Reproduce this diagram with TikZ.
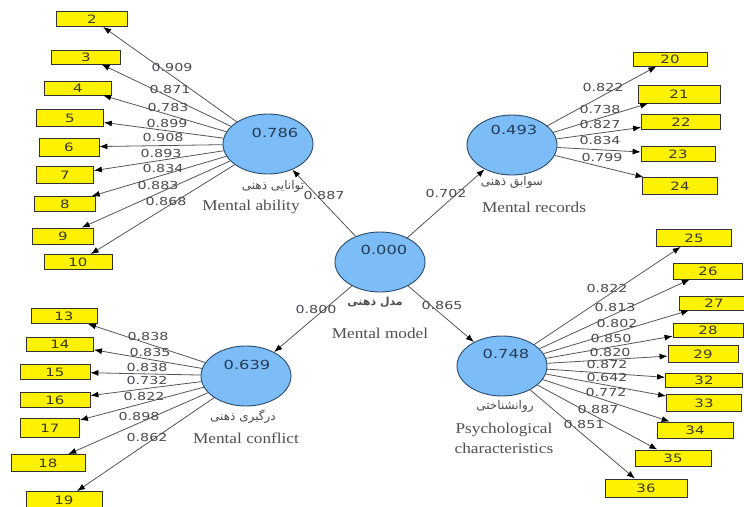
\documentclass[tikz,border=0pt]{standalone}
\usepackage{fontspec}
\usetikzlibrary{shapes.geometric,arrows.meta}
\TeXXeTstate=1
\newfontfamily\numf[FakeStretch=1.3]{DejaVu Sans}
\newfontfamily\serf[FakeStretch=1.15]{Liberation Serif}
\newfontfamily\arabicfont[Script=Arabic]{DejaVu Sans}
\definecolor{ellfill}{HTML}{7DBDF7}
\definecolor{elldraw}{HTML}{2B4A6B}
\definecolor{valcol}{HTML}{243C58}
\definecolor{linecol}{HTML}{555555}
\definecolor{loadcol}{HTML}{4A4A52}
\definecolor{boxtext}{HTML}{3A3A20}
\definecolor{labcol}{HTML}{505050}
\tikzset{
  latent/.style={ellipse,draw=elldraw,line width=0.9pt,fill=ellfill,minimum width=90pt,minimum height=60pt,inner sep=0pt},
  valtext/.style={font=\numf\fontsize{12.5}{14}\selectfont,text=valcol,inner sep=0pt},
  indbox/.style={draw=black!80,line width=0.8pt,fill=yellow,inner sep=0pt,minimum height=15pt,font=\numf\fontsize{11.5}{13}\selectfont,text=boxtext},
  load/.style={font=\numf\fontsize{11}{13}\selectfont,text=loadcol,inner sep=0pt},
  enlab/.style={font=\serf\fontsize{15}{20}\selectfont,text=labcol,inner sep=0pt,align=center},
  falab/.style={font=\arabicfont\fontsize{12}{14}\selectfont,text=black!70,inner sep=0pt},
  conn/.style={draw=linecol,line width=0.8pt,-{Latex[length=8pt,width=6pt,color=black]}}
}
\begin{document}
\begin{tikzpicture}[x=1pt,y=-1pt]
\useasboundingbox (0,0) rectangle (744,506);
\fill[white] (0,0) rectangle (744,506);

% latent variables
\node[latent] (ma) at (268,144) {};
\node[latent] (mr) at (512,145) {};
\node[latent] (mm) at (380,262) {};
\node[latent] (mc) at (246,376) {};
\node[latent] (pc) at (502,366) {};

% indicator boxes: Mental ability
\node[indbox,minimum width=71pt] (b2) at (92,19) {2};
\node[indbox,minimum width=69pt,minimum height=14pt] (b3) at (86,57) {3};
\node[indbox,minimum width=67pt,minimum height=14pt] (b4) at (78,88) {4};
\node[indbox,minimum width=67pt,minimum height=17pt] (b5) at (70,118) {5};
\node[indbox,minimum width=60pt,minimum height=18pt] (b6) at (69,147) {6};
\node[indbox,minimum width=57pt,minimum height=17pt] (b7) at (65,175) {7};
\node[indbox,minimum width=61pt] (b8) at (65,204) {8};
\node[indbox,minimum width=61pt,minimum height=16pt] (b9) at (63,236) {9};
\node[indbox,minimum width=68pt] (b10) at (78,262) {10};

% Mental records
\node[indbox,minimum width=74pt,minimum height=14pt] (b20) at (670,59) {20};
\node[indbox,minimum width=82pt,minimum height=18pt] (b21) at (679,94) {21};
\node[indbox,minimum width=79pt] (b22) at (681,122) {22};
\node[indbox,minimum width=74pt] (b23) at (678,154) {23};
\node[indbox,minimum width=75pt,minimum height=17pt] (b24) at (680,186) {24};

% Psychological characteristics
\node[indbox,minimum width=75pt,minimum height=17pt] (b25) at (694,238) {25};
\node[indbox,minimum width=69pt,minimum height=16pt] (b26) at (708,271) {26};
\node[indbox,minimum width=70pt,minimum height=14pt] (b27) at (714,303) {27};
\node[indbox,minimum width=70pt,minimum height=14pt] (b28) at (708,330) {28};
\node[indbox,minimum width=70pt,minimum height=17pt] (b29) at (703,354) {29};
\node[indbox,minimum width=77pt,minimum height=14pt] (b32) at (704,380) {32};
\node[indbox,minimum width=75pt,minimum height=17pt] (b33) at (704,403) {33};
\node[indbox,minimum width=76pt,minimum height=16pt] (b34) at (695,430) {34};
\node[indbox,minimum width=76pt,minimum height=16pt] (b35) at (673,458) {35};
\node[indbox,minimum width=82pt,minimum height=18pt] (b36) at (646,488) {36};

% Mental conflict
\node[indbox,minimum width=66pt] (b13) at (64,316) {13};
\node[indbox,minimum width=67pt,minimum height=14pt] (b14) at (60,344) {14};
\node[indbox,minimum width=70pt] (b15) at (55,372) {15};
\node[indbox,minimum width=70pt] (b16) at (55,400) {16};
\node[indbox,minimum width=59pt,minimum height=19pt] (b17) at (50,428) {17};
\node[indbox,minimum width=74pt,minimum height=17pt] (b18) at (48,463) {18};
\node[indbox,minimum width=76pt,minimum height=17pt] (b19) at (64,500) {19};

% connectors
\foreach \b in {2,3,4,5,6,7,8,9,10} \draw[conn] (ma) -- (b\b);
\foreach \b in {20,21,22,23,24} \draw[conn] (mr) -- (b\b);
\foreach \b in {25,26,27,28,29,32,33,34,35,36} \draw[conn] (pc) -- (b\b);
\foreach \b in {13,14,15,16,17,18,19} \draw[conn] (mc) -- (b\b);
\draw[conn] (mm) -- (ma);
\draw[conn] (mm) -- (mr);
\draw[conn] (mm) -- (mc);
\draw[conn] (mm) -- (pc);

% values in latent variables
\node[valtext] (vma) at (275,133) {0.786};
\node[valtext] (vmr) at (514,130) {0.493};
\node[valtext] (vmm) at (384,250) {0.000};
\node[valtext] (vmc) at (247,365) {0.639};
\node[valtext] (vpc) at (506,354) {0.748};

% loadings: Mental ability
\node[load] (l2) at (172,67) {0.909};
\node[load] (l3) at (170,89) {0.871};
\node[load] (l4) at (168,107) {0.783};
\node[load] (l5) at (167,123) {0.899};
\node[load] (l6) at (163,137) {0.908};
\node[load] (l7) at (161,153) {0.893};
\node[load] (l8) at (163,168) {0.834};
\node[load] (l9) at (158,185) {0.883};
\node[load] (l10) at (166,201) {0.868};

% loadings: Mental records
\node[load] (l20) at (603,87) {0.822};
\node[load] (l21) at (600,109) {0.738};
\node[load] (l22) at (600,124) {0.827};
\node[load] (l23) at (600,140) {0.834};
\node[load] (l24) at (602,157) {0.799};

% loadings: Psychological characteristics
\node[load] (l25) at (607,288) {0.822};
\node[load] (l26) at (615,307) {0.813};
\node[load] (l27) at (617,323) {0.802};
\node[load] (l28) at (611,338) {0.850};
\node[load] (l29) at (610,352) {0.820};
\node[load] (l32) at (607,364) {0.872};
\node[load] (l33) at (607,377) {0.642};
\node[load] (l34) at (606,392) {0.772};
\node[load] (l35) at (598,409) {0.887};
\node[load] (l36) at (584,424) {0.851};

% loadings: Mental conflict
\node[load] (l13) at (148,336) {0.838};
\node[load] (l14) at (150,352) {0.835};
\node[load] (l15) at (147,367) {0.838};
\node[load] (l16) at (147,380) {0.732};
\node[load] (l17) at (144,396) {0.822};
\node[load] (l18) at (139,416) {0.898};
\node[load] (l19) at (147,437) {0.862};

% structural coefficients
\node[load] (s1) at (324,195) {0.887};
\node[load] (s2) at (446,193) {0.702};
\node[load] (s3) at (316,309) {0.800};
\node[load] (s4) at (442,305) {0.865};

% Persian labels
\node[falab] (fma) at (273,186) {\beginR توانایی ذهنی\endR};
\node[falab] (fmr) at (512,182) {\beginR سوابق ذهنی\endR};
\node[falab,font=\arabicfont\fontsize{11}{13}\selectfont\bfseries] (fmm) at (375,302) {\beginR مدل ذهنی\endR};
\node[falab] (fmc) at (243,417) {\beginR درگیری ذهنی\endR};
\node[falab] (fpc) at (505,406) {\beginR روانشناختی\endR};

% English labels
\node[enlab] (ema) at (251,207) {Mental ability};
\node[enlab] (emr) at (534,207) {Mental records};
\node[enlab] (emm) at (380,333) {Mental model};
\node[enlab] (emc) at (246,438) {Mental conflict};
\node[enlab] (epc) at (504,438) {Psychological\\characteristics};
\end{tikzpicture}
\end{document}
